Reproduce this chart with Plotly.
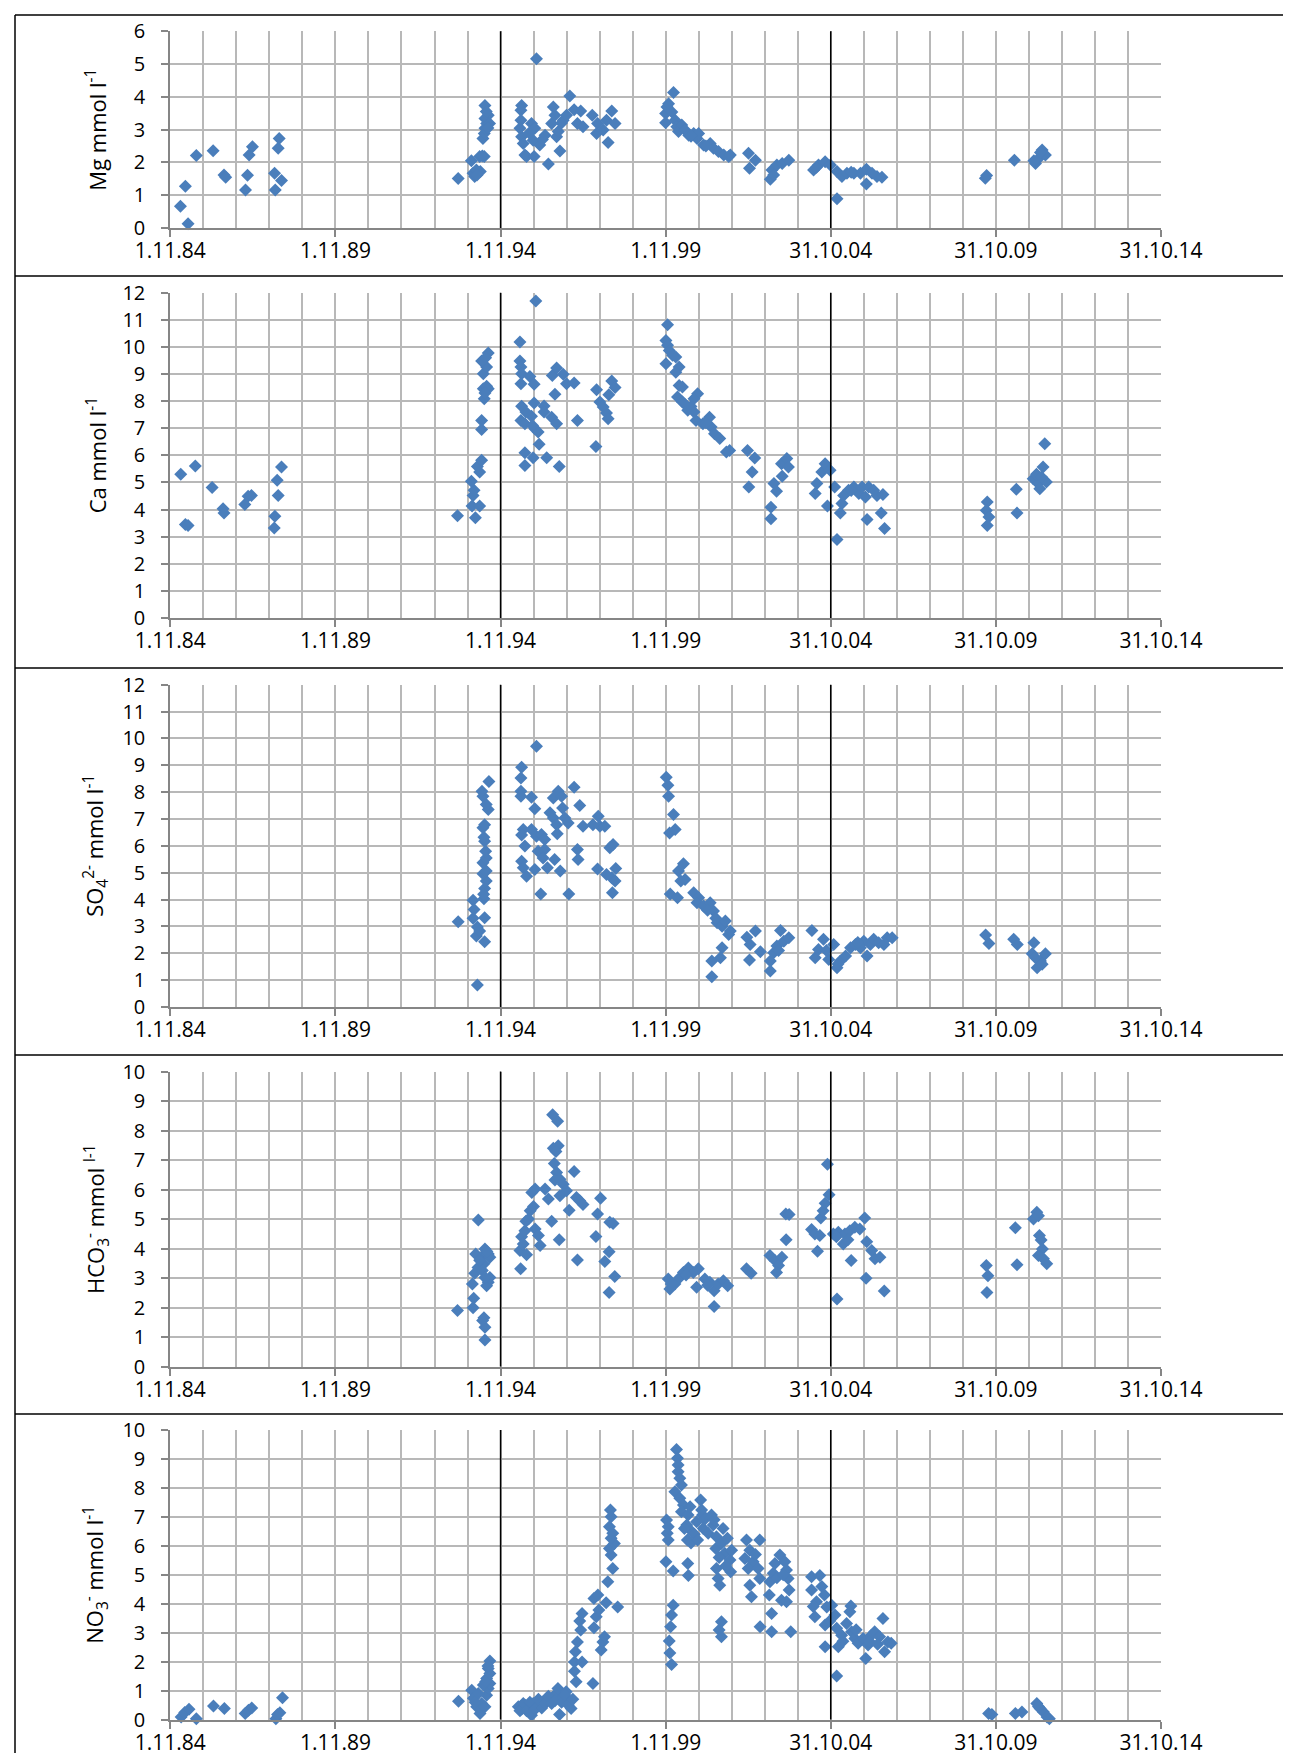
import plotly.graph_objects as go

# ---------------- data (decimal year, value) ----------------
tick_years = [1984.833, 1989.833, 1994.833, 1999.833, 2004.830, 2009.830, 2014.830]
tick_labels = ["1.11.84", "1.11.89", "1.11.94", "1.11.99", "31.10.04", "31.10.09", "31.10.14"]
marker_lines = [1994.833, 2004.830]

mg_year = [1985.14, 1985.29, 1985.37, 1985.62, 1986.13, 1986.46, 1986.51, 1987.11, 1987.17, 1987.22,
           1987.32, 1987.99, 1988.01, 1988.10, 1988.13, 1988.20,
           1993.55, 1993.95, 1994.00, 1994.05, 1994.10, 1994.20, 1994.22, 1994.34, 1994.30, 1994.34,
           1994.36, 1994.41, 1994.36, 1994.46, 1994.50, 1994.36, 1994.40, 1994.45, 1994.28, 1994.12,
           1995.47, 1995.45, 1995.45, 1995.42, 1995.47, 1995.52, 1995.57, 1995.62, 1995.77, 1995.87,
           1995.82, 1995.85, 1995.92, 1996.02, 1996.18, 1996.28, 1996.38, 1996.43, 1996.48, 1996.53,
           1996.58, 1996.63, 1996.73, 1996.83, 1996.93, 1997.06, 1997.16, 1997.26, 1997.33, 1997.61,
           1997.77, 1997.74, 1997.94, 1998.04, 1998.09, 1998.20, 1998.30, 1995.70, 1996.10, 1996.68,
           1999.83, 1999.87, 1999.92, 2000.07, 1999.83, 2000.02, 2000.12, 2000.17, 2000.22, 2000.32,
           2000.42, 2000.53, 2000.68, 2000.78, 2000.83, 2000.98, 2001.18, 2001.28, 2001.43, 2001.59,
           2001.74, 2001.79, 2002.34, 2002.55, 2002.37, 2003.00, 2003.05, 2003.20, 2003.36, 2003.56,
           2004.31, 2004.46, 2004.66, 2004.82, 2005.02, 2005.02, 2005.17, 2005.32, 2005.53, 2005.73,
           2005.91, 2005.91, 2006.08, 2006.23, 2006.38, 2000.60, 2001.05, 2003.10, 2004.40, 2005.45,
           2009.51, 2009.55, 2010.39, 2011.03, 2011.13, 2011.23, 2011.33, 2010.98, 2011.18]
mg_val = [0.66, 1.27, 0.13, 2.21, 2.36, 1.62, 1.55, 1.16, 1.61, 2.23,
          2.48, 1.67, 1.16, 2.43, 2.73, 1.45,
          1.51, 2.05, 1.67, 1.57, 1.77, 2.18, 1.72, 2.18, 2.73, 2.88,
          3.04, 3.19, 3.34, 3.44, 3.19, 3.74, 3.55, 3.05, 2.20, 1.62,
          3.74, 3.59, 3.29, 3.04, 2.78, 2.58, 2.23, 2.18, 3.19, 3.04,
          2.68, 2.18, 5.16, 2.53, 2.83, 1.95, 3.19, 3.69, 3.44, 2.78,
          2.94, 2.35, 3.29, 3.44, 4.03, 3.61, 3.19, 3.57, 3.09, 3.44,
          3.19, 2.88, 2.99, 3.29, 2.61, 3.57, 3.19, 2.90, 2.70, 3.20,
          3.49, 3.69, 3.79, 4.13, 3.21, 3.54, 3.29, 3.09, 2.94, 3.14,
          2.99, 2.83, 2.88, 2.73, 2.88, 2.53, 2.58, 2.43, 2.33, 2.23,
          2.18, 2.23, 2.28, 2.07, 1.82, 1.49, 1.77, 1.92, 1.97, 2.07,
          1.77, 1.92, 2.02, 1.92, 0.89, 1.72, 1.57, 1.67, 1.67, 1.67,
          1.79, 1.34, 1.67, 1.57, 1.55, 2.80, 2.50, 1.62, 1.85, 1.70,
          1.52, 1.60, 2.07, 1.97, 2.13, 2.38, 2.23, 2.05, 2.30]

ca_year = [1985.15, 1985.29, 1985.37, 1985.59, 1986.10, 1986.43, 1986.46, 1987.09, 1987.19, 1987.29,
           1988.00, 1987.98, 1988.10, 1988.07, 1988.20,
           1993.53, 1994.07, 1993.97, 1994.20, 1994.00, 1994.03, 1993.95, 1994.20, 1994.13, 1994.26,
           1994.26, 1994.26, 1994.34, 1994.31, 1994.41, 1994.46, 1994.31, 1994.41, 1994.26, 1994.46,
           1994.36, 1994.38,
           1995.42, 1995.42, 1995.45, 1995.47, 1995.45, 1995.72, 1995.85, 1995.47, 1995.85, 1995.45,
           1995.57, 1995.77, 1995.87, 1995.97, 1996.00, 1995.57, 1995.57, 1995.82, 1995.90, 1996.15,
           1996.15, 1996.23, 1996.38, 1996.53, 1996.48, 1996.40, 1996.53, 1996.73, 1996.83, 1996.61,
           1997.06, 1997.16, 1997.72, 1997.74, 1997.84, 1997.94, 1998.04, 1998.09, 1998.11, 1998.20,
           1998.30, 1995.60, 1995.80,
           1999.89, 1999.84, 1999.89, 1999.94, 2000.04, 1999.84, 2000.14, 2000.24, 2000.14, 2000.24,
           2000.34, 2000.19, 2000.34, 2000.80, 2000.69, 2000.50, 2000.69, 2000.75, 2000.96, 2001.16,
           2001.21, 2001.31, 2001.47, 2001.67, 2001.77, 2002.31, 2002.53, 2002.45, 2002.35, 2003.02,
           2003.02, 2003.11, 2003.19, 2003.36, 2003.34, 2003.50, 2003.55, 2004.41, 2004.36, 2004.56,
           2004.66, 2004.81, 2004.73, 2004.95, 2005.02, 2005.12, 2005.17, 2005.22, 2005.37, 2005.53,
           2005.68, 2005.78, 2005.88, 2005.93, 2005.98, 2006.13, 2006.23, 2006.36, 2006.41, 2006.46,
           2000.40, 2000.60, 2001.05, 2005.45,
           2009.57, 2009.54, 2009.62, 2009.57, 2010.45, 2010.47, 2010.96, 2011.11, 2011.26, 2011.31,
           2011.36, 2011.16, 2011.06, 2011.21]
ca_val = [5.30, 3.45, 3.41, 5.61, 4.81, 4.03, 3.87, 4.19, 4.49, 4.52,
          3.75, 3.32, 4.52, 5.08, 5.57,
          3.77, 3.70, 4.13, 4.13, 4.52, 4.71, 5.04, 5.39, 5.59, 5.82,
          6.95, 7.29, 8.09, 8.46, 8.55, 8.46, 9.01, 9.26, 9.48, 9.78,
          8.30, 9.60,
          10.18, 9.48, 9.26, 9.01, 8.64, 8.91, 8.62, 7.81, 7.93, 7.29,
          7.17, 7.44, 6.98, 6.86, 6.41, 6.10, 5.63, 5.91, 11.69, 7.82,
          7.60, 5.91, 7.41, 7.17, 8.25, 8.95, 9.22, 8.99, 8.64, 5.59,
          8.67, 7.29, 6.33, 8.42, 7.97, 7.78, 7.56, 7.35, 8.24, 8.74,
          8.50, 7.60, 7.10,
          10.82, 10.24, 10.06, 9.87, 9.69, 9.38, 9.63, 9.26, 9.07, 8.58,
          8.52, 8.15, 7.97, 8.27, 8.09, 7.66, 7.60, 7.29, 7.17, 7.41,
          7.05, 6.80, 6.62, 6.12, 6.18, 6.18, 5.90, 5.39, 4.83, 4.09,
          3.66, 4.96, 4.68, 5.23, 5.69, 5.88, 5.57, 4.96, 4.59, 5.39,
          5.69, 5.45, 4.13, 4.83, 2.90, 3.87, 4.22, 4.52, 4.71, 4.83,
          4.59, 4.83, 4.46, 3.63, 4.83, 4.71, 4.52, 3.87, 4.56, 3.30,
          7.90, 7.80, 7.20, 4.70,
          4.28, 3.97, 3.73, 3.41, 4.75, 3.87, 5.14, 4.96, 5.57, 6.43,
          5.02, 4.77, 5.30, 5.20]

so4_year = [1993.55, 1994.00, 1994.00, 1994.03, 1994.13, 1994.10, 1994.20, 1994.35, 1994.13, 1994.35,
            1994.33, 1994.35, 1994.40, 1994.30, 1994.40, 1994.30, 1994.40, 1994.35, 1994.33, 1994.30,
            1994.35, 1994.46, 1994.40, 1994.30, 1994.27, 1994.48, 1994.38, 1994.32,
            1995.47, 1995.45, 1995.45, 1995.45, 1995.77, 1995.87, 1995.92, 1995.52, 1995.47, 1995.57,
            1995.47, 1995.52, 1995.62, 1995.87, 1995.77, 1995.92, 1996.07, 1996.17, 1995.97, 1996.17,
            1996.12, 1996.05, 1996.25, 1996.47, 1996.64, 1996.33, 1996.43, 1996.53, 1996.55, 1996.43,
            1996.58, 1996.68, 1996.71, 1996.78, 1996.88, 1996.90, 1997.06, 1997.23, 1997.16, 1997.18,
            1997.33, 1997.63, 1997.79, 1997.84, 1997.99, 1997.77, 1998.04, 1998.14, 1998.24, 1998.20,
            1998.30, 1998.22, 1998.32,
            1999.85, 1999.90, 1999.92, 2000.07, 1999.95, 2000.12, 1999.97, 2000.19, 2000.37, 2000.22,
            2000.42, 2000.29, 2000.68, 2000.83, 2000.78, 2000.98, 2001.18, 2001.28, 2001.39, 2001.54,
            2001.64, 2001.74, 2001.79, 2001.54, 2001.49, 2001.23, 2001.23, 2002.29, 2002.39, 2002.55,
            2002.70, 2002.37, 2003.00, 2003.00, 2003.10, 2003.20, 2003.31, 2003.41, 2003.56, 2004.26,
            2004.36, 2004.46, 2004.61, 2004.77, 2004.92, 2005.02, 2005.12, 2005.28, 2005.43, 2005.58,
            2005.73, 2005.83, 2005.93, 2006.03, 2006.13, 2006.28, 2006.44, 2006.54, 2006.69,
            2001.10, 2001.35, 2003.25, 2004.70, 2005.05, 2005.65,
            2009.52, 2009.62, 2010.37, 2010.48, 2010.98, 2010.93, 2011.08, 2011.18, 2011.33, 2011.03,
            2011.23]
so4_val = [3.17, 3.97, 3.30, 3.63, 2.98, 2.64, 2.83, 2.43, 0.82, 3.32,
           4.03, 4.41, 4.69, 4.96, 5.06, 5.37, 5.55, 6.17, 6.32, 6.67,
           6.79, 7.35, 7.54, 7.85, 8.03, 8.40, 5.80, 4.20,
           8.93, 8.53, 8.03, 7.85, 7.81, 7.38, 9.71, 6.61, 6.40, 5.99,
           5.43, 5.18, 4.87, 5.12, 6.61, 6.36, 6.42, 6.24, 5.80, 5.86,
           5.55, 4.21, 5.18, 5.49, 5.06, 7.23, 7.04, 6.79, 6.45, 7.78,
           8.03, 7.85, 7.41, 7.04, 6.85, 4.21, 8.18, 7.50, 5.86, 5.49,
           6.73, 6.79, 7.10, 6.73, 6.73, 5.14, 4.93, 5.93, 6.05, 4.81,
           4.69, 4.25, 5.16,
           8.55, 8.26, 7.85, 7.17, 6.48, 6.61, 4.21, 4.07, 5.33, 5.06,
           4.75, 4.69, 4.25, 4.07, 3.88, 3.76, 3.88, 3.57, 3.14, 3.01,
           3.20, 2.70, 2.83, 2.21, 1.83, 1.71, 1.13, 2.60, 2.33, 2.83,
           2.06, 1.75, 1.71, 1.34, 2.02, 2.27, 2.85, 2.45, 2.58, 2.85,
           1.83, 2.14, 2.52, 1.77, 2.33, 1.46, 1.71, 1.90, 2.21, 2.33,
           2.21, 2.45, 1.90, 2.33, 2.52, 2.39, 2.33, 2.58, 2.58,
           3.60, 3.30, 2.10, 2.10, 1.60, 2.40,
           2.68, 2.36, 2.52, 2.33, 2.39, 1.98, 1.46, 1.71, 1.98, 1.83,
           1.59]

hco3_year = [1993.53, 1994.16, 1994.00, 1994.02, 1994.33, 1994.36, 1994.36, 1994.29, 1993.98, 1994.05,
             1994.15, 1994.08, 1994.25, 1994.36, 1994.46, 1994.51, 1994.33, 1994.28, 1994.46, 1994.41,
             1994.51, 1994.36, 1994.20, 1994.42,
             1995.44, 1995.42, 1995.47, 1995.52, 1995.62, 1995.57, 1995.60, 1995.73, 1995.83, 1995.88,
             1995.88, 1995.98, 1996.03, 1996.18, 1996.28, 1996.38, 1996.41, 1996.56, 1996.43, 1996.58,
             1996.51, 1996.46, 1996.53, 1996.48, 1996.63, 1996.73, 1996.83, 1996.63, 1996.61, 1996.91,
             1997.06, 1997.13, 1997.23, 1997.33, 1997.16, 1997.86, 1997.77, 1997.72, 1998.14, 1998.24,
             1998.12, 1997.99, 1998.29, 1998.12, 1995.68, 1995.78,
             1999.91, 1999.96, 2000.11, 2000.26, 2000.37, 2000.52, 2000.67, 2000.77, 2000.82, 2001.02,
             2001.17, 2001.30, 2001.30, 2001.42, 2001.58, 2001.71, 2002.28, 2002.42, 2002.99, 2003.14,
             2003.25, 2003.19, 2003.35, 2003.48, 2003.47, 2003.57, 2004.25, 2004.35, 2004.50, 2004.43,
             2004.53, 2004.60, 2004.66, 2004.78, 2004.73, 2004.91, 2005.06, 2005.21, 2005.26, 2005.41,
             2005.56, 2005.71, 2005.86, 2005.45, 2005.02, 2005.92, 2006.07, 2006.17, 2006.32, 2005.90,
             2006.45, 2000.00, 2000.45, 2001.10, 2005.00, 2005.35,
             2009.54, 2009.59, 2009.56, 2010.42, 2010.47, 2010.97, 2011.07, 2011.12, 2011.15, 2011.20,
             2011.24, 2011.12, 2011.27, 2011.37]
hco3_val = [1.90, 4.97, 1.99, 2.31, 1.65, 1.33, 0.90, 1.56, 2.80, 3.16,
            3.36, 3.81, 3.70, 3.98, 3.81, 3.70, 3.48, 3.25, 2.86, 2.74,
            3.02, 3.02, 3.60, 3.90,
            3.31, 3.93, 4.40, 4.15, 3.79, 4.60, 4.92, 5.28, 5.42, 6.02,
            4.66, 4.44, 4.10, 6.02, 5.68, 4.92, 8.53, 8.31, 7.40, 7.48,
            7.29, 6.88, 6.58, 6.32, 6.35, 6.18, 5.96, 5.79, 4.30, 5.30,
            6.61, 5.73, 5.62, 5.49, 3.61, 5.70, 5.17, 4.41, 4.89, 4.85,
            3.89, 3.56, 3.05, 2.51, 5.00, 5.90,
            2.97, 2.63, 2.80, 3.02, 3.19, 3.34, 3.19, 2.69, 3.31, 2.97,
            2.86, 2.57, 2.03, 2.80, 2.91, 2.74, 3.31, 3.16, 3.76, 3.59,
            3.42, 3.19, 3.70, 4.30, 5.17, 5.15, 4.64, 4.49, 4.44, 3.91,
            5.03, 5.28, 5.53, 5.82, 6.86, 4.49, 4.55, 4.15, 4.49, 4.60,
            4.72, 4.66, 5.03, 3.59, 2.29, 4.23, 3.93, 3.65, 3.70, 2.99,
            2.56, 2.80, 3.10, 2.75, 4.40, 4.30,
            3.42, 3.08, 2.51, 4.70, 3.45, 5.00, 5.23, 5.11, 4.44, 4.29,
            3.98, 3.76, 3.65, 3.48]

no3_year = [1985.16, 1985.27, 1985.40, 1985.62, 1986.14, 1986.47, 1987.10, 1987.20, 1987.30, 1988.03,
            1988.08, 1988.15, 1988.23,
            1993.56, 1993.96, 1994.01, 1994.11, 1994.21, 1994.26, 1994.36, 1994.41, 1994.46, 1994.51,
            1994.41, 1994.51, 1994.46, 1994.51, 1994.31, 1994.06, 1994.16, 1994.45, 1994.38,
            1995.37, 1995.47, 1995.57, 1995.67, 1995.77, 1995.82, 1995.93, 1996.03, 1996.13, 1996.23,
            1996.33, 1996.42, 1996.53, 1996.57, 1996.62, 1996.72, 1996.82, 1996.92, 1996.97, 1995.42,
            1995.52, 1995.62, 1995.72, 1995.88, 1995.98, 1996.08, 1996.18, 1996.28, 1996.38, 1996.48,
            1996.68, 1996.78, 1996.88, 1997.02,
            1997.12, 1997.07, 1997.07, 1997.30, 1997.10, 1997.16, 1997.26, 1997.23, 1997.30, 1997.63,
            1997.66, 1997.73, 1997.81, 1997.66, 1997.78, 1997.88, 1997.93, 1997.98, 1998.03, 1998.08,
            1998.23, 1998.38, 1998.18, 1998.13, 1998.28, 1998.18, 1998.23, 1998.13, 1998.18, 1998.16,
            1999.86, 1999.91, 1999.88, 1999.91, 1999.84, 2000.06, 2000.06, 2000.01, 1999.98, 1999.94,
            1999.96, 2000.01, 2000.16, 2000.19, 2000.21, 2000.21, 2000.26, 2000.31, 2000.11, 2000.26,
            2000.37, 2000.31, 2000.51, 2000.57, 2000.47, 2000.62, 2000.49, 2000.50, 2000.52, 2000.77,
            2000.89, 2000.92, 2000.95, 2000.97, 2001.12, 2001.22, 2001.27, 2001.37, 2001.35, 2001.52,
            2001.57, 2001.62, 2001.70, 2001.78, 2001.80, 2001.83, 2001.37, 2001.42, 2001.47, 2001.52,
            2001.45, 2001.52, 2002.28, 2002.68, 2002.38, 2002.23, 2002.48, 2002.33, 2002.63, 2002.68,
            2002.38, 2002.43, 2002.69, 2003.04, 2003.04, 2003.62, 2002.97, 2002.99, 2003.09, 2003.14,
            2003.29, 2003.44, 2003.49, 2003.54, 2003.34, 2003.57, 2003.49, 2004.25, 2004.50, 2004.25,
            2004.56, 2004.35, 2004.40, 2004.64, 2004.66, 2004.71, 2004.66, 2004.86, 2004.96, 2005.01,
            2005.01, 2005.06, 2005.16, 2005.31, 2005.44, 2005.41, 2005.46, 2005.56, 2005.66, 2005.81,
            2005.89, 2005.96, 2006.06, 2006.16, 2006.31, 2006.41, 2006.46, 2006.56, 2006.66,
            2000.40, 2000.70, 2001.00, 2001.45, 2001.65, 2002.55, 2003.20, 2003.39, 2004.30, 2004.80,
            2005.20, 2005.60, 2006.00, 2006.25, 2000.60, 2000.80, 2001.30,
            2009.61, 2009.71, 2010.42, 2010.62, 2011.07, 2011.17, 2011.27, 2011.38, 2011.45, 2011.12]
no3_val = [0.09, 0.24, 0.35, 0.03, 0.47, 0.38, 0.21, 0.32, 0.40, 0.03,
           0.17, 0.23, 0.75,
           0.63, 1.01, 0.73, 0.44, 0.21, 0.55, 0.44, 0.84, 1.07, 1.24,
           1.42, 1.59, 1.76, 2.02, 1.19, 0.60, 0.90, 1.85, 1.30,
           0.44, 0.36, 0.50, 0.38, 0.15, 0.55, 0.44, 0.50, 0.61, 0.73,
           0.67, 0.78, 0.90, 1.07, 0.17, 0.78, 0.96, 0.61, 0.38, 0.30,
           0.55, 0.30, 0.60, 0.35, 0.70, 0.40, 0.55, 0.80, 0.55, 0.65,
           0.60, 0.85, 0.50, 0.70,
           1.30, 1.67, 1.99, 1.99, 2.34, 2.68, 3.09, 3.40, 3.66, 1.24,
           3.17, 3.55, 3.78, 4.18, 4.30, 2.40, 2.68, 2.86, 4.03, 4.76,
           5.22, 3.89, 5.68, 5.91, 6.08, 6.26, 6.43, 6.66, 7.00, 7.24,
           6.89, 6.66, 6.43, 6.20, 5.45, 5.13, 3.95, 3.61, 3.20, 2.71,
           2.30, 1.90, 9.33, 9.02, 8.79, 8.56, 8.33, 8.10, 7.87, 7.64,
           7.41, 7.18, 7.06, 7.35, 6.72, 6.49, 6.20, 5.39, 4.97, 6.83,
           7.58, 7.24, 7.06, 6.60, 6.43, 7.06, 6.72, 6.31, 5.91, 6.08,
           6.60, 5.74, 6.26, 5.51, 5.10, 5.85, 5.22, 4.87, 4.64, 3.38,
           3.09, 2.86, 6.20, 6.20, 5.85, 5.56, 5.45, 5.22, 5.22, 4.87,
           4.64, 4.24, 3.20, 3.66, 3.03, 3.03, 4.30, 4.76, 5.05, 5.39,
           5.68, 5.45, 5.16, 4.87, 4.12, 4.47, 4.07, 4.93, 4.97, 4.47,
           4.59, 3.55, 4.07, 4.30, 3.26, 3.89, 2.51, 3.95, 3.61, 3.15,
           1.50, 2.51, 2.91, 3.32, 3.92, 3.72, 3.03, 2.80, 2.63, 2.80,
           2.11, 2.57, 2.91, 3.03, 2.86, 3.49, 2.34, 2.68, 2.63,
           6.60, 6.40, 6.90, 5.60, 5.30, 5.70, 4.90, 5.00, 3.90, 3.40,
           2.70, 3.10, 2.70, 2.60, 6.10, 6.20, 6.90,
           0.21, 0.17, 0.21, 0.26, 0.55, 0.38, 0.26, 0.09, 0.03, 0.45]

panels = [
    (mg_year, mg_val, 6, "Mg mmol l<sup>-1</sup>"),
    (ca_year, ca_val, 12, "Ca mmol l<sup>-1</sup>"),
    (so4_year, so4_val, 12, "SO<sub>4</sub><sup>2-</sup> mmol l<sup>-1</sup>"),
    (hco3_year, hco3_val, 10, "HCO<sub>3</sub><sup>-</sup> mmol <sup>l-1</sup>"),
    (no3_year, no3_val, 10, "NO<sub>3</sub><sup>-</sup> mmol l<sup>-1</sup>"),
]

# ---------------- layout geometry (pixels) ----------------
W, H = 1291, 1753
plot_left, plot_right = 162.3, 1153.0
plot_tops = [23.3, 284.7, 676.7, 1063.5, 1422.0]
plot_bottoms = [220.0, 610.0, 999.0, 1358.5, 1711.5]
borders = [7, 268, 660, 1047, 1406]

FONT = "Open Sans"
GRID = "#B8B8B8"
AXIS = "#868686"
BLUE = "#4A7EBB"

fig = go.Figure()
layout = dict(
    width=W, height=H, margin=dict(l=0, r=0, t=0, b=0),
    paper_bgcolor="white", plot_bgcolor="white", showlegend=False,
    font=dict(family=FONT, color="black"),
)
shapes = []
annotations = []

for i, (xs, ys, ymax, title) in enumerate(panels):
    n = "" if i == 0 else str(i + 1)
    fig.add_trace(go.Scatter(
        x=xs, y=ys, mode="markers", xaxis="x" + n, yaxis="y" + n,
        marker=dict(symbol="diamond", size=10, color=BLUE, line=dict(width=0)),
        cliponaxis=False, hoverinfo="x+y",
    ))
    y0 = 1 - plot_bottoms[i] / H
    y1 = 1 - plot_tops[i] / H
    layout["xaxis" + n] = dict(
        domain=[plot_left / W, plot_right / W], anchor="y" + n,
        range=[tick_years[0], tick_years[-1]],
        tickmode="array", tickvals=tick_years, ticktext=tick_labels,
        ticks="outside", ticklen=7, tickcolor=AXIS, tickwidth=1.5,
        showline=True, linecolor=AXIS, linewidth=2,
        showgrid=True, gridcolor=GRID, gridwidth=2,
        minor=dict(tick0=tick_years[0], dtick=1, showgrid=True, gridcolor=GRID, gridwidth=2, ticks=""),
        tickfont=dict(family=FONT, size=21, color="black"),
        ticklabelstandoff=-4,
        zeroline=False, automargin=False, fixedrange=True,
    )
    layout["yaxis" + n] = dict(
        domain=[y0, y1], anchor="x" + n,
        range=[0, ymax], tickmode="linear", tick0=0, dtick=1,
        ticks="outside", ticklen=7, tickcolor=AXIS, tickwidth=1.5,
        showline=True, linecolor=AXIS, linewidth=2,
        showgrid=True, gridcolor=GRID, gridwidth=2,
        tickfont=dict(family=FONT, size=20, color="black"),
        ticklabelstandoff=12,
        zeroline=False, automargin=False, fixedrange=True,
    )
    for xv in marker_lines:
        shapes.append(dict(type="line", xref="x" + n, yref="y" + n + " domain",
                           x0=xv, x1=xv, y0=0, y1=1,
                           line=dict(color="black", width=1.5)))
    annotations.append(dict(
        xref="paper", yref="paper", x=88 / W, y=(y0 + y1) / 2,
        text=title, textangle=-90, showarrow=False,
        font=dict(family=FONT, size=22, color="black"),
        xanchor="center", yanchor="middle",
    ))

# panel frames
for b in borders:
    shapes.append(dict(type="line", xref="paper", yref="paper",
                       x0=7 / W, x1=1.01, y0=1 - b / H, y1=1 - b / H,
                       line=dict(color="black", width=1.5)))
shapes.append(dict(type="line", xref="paper", yref="paper",
                   x0=7 / W, x1=7 / W, y0=-0.01, y1=1 - 7 / H,
                   line=dict(color="black", width=1.5)))

layout["shapes"] = shapes
layout["annotations"] = annotations
fig.update_layout(**layout)
fig.write_html("out.html")
